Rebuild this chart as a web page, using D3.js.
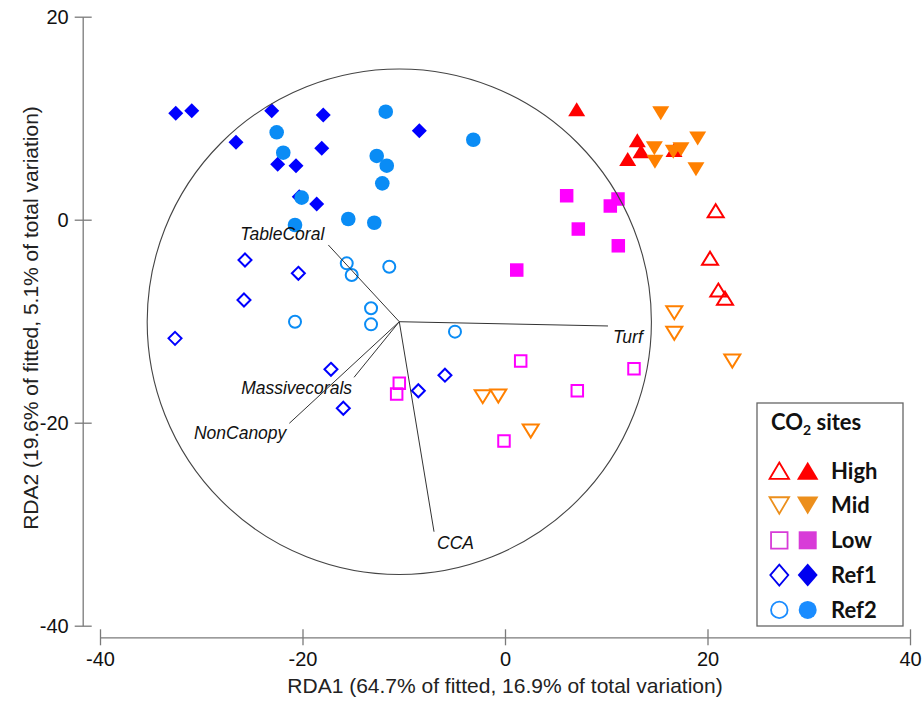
<!DOCTYPE html>
<html>
<head>
<meta charset="utf-8">
<script src="https://cdn.jsdelivr.net/npm/d3@7"></script>
<style>
  body { margin: 0; background: #fff; }
  svg text { font-family: "Liberation Sans", Arial, sans-serif; }
</style>
</head>
<body>
<div id="rda_plot"></div>
<script>
// size of svg
const width = 923; const height = 701;

// site scores [RDA1, RDA2]
const highOpen   = [[20.81, 0.89], [20.25, -3.80], [21.07, -6.93], [21.73, -7.74]];
const highFilled = [[7.08, 10.88], [13.07, 7.82], [13.43, 6.74], [12.12, 5.99], [16.69, 6.86]];
const midOpen    = [[16.72, -9.16], [16.72, -11.19], [22.45, -13.93], [-2.20, -17.44], [-0.66, -17.37], [2.54, -20.82]];
const midFilled  = [[15.38, 10.48], [19.03, 8.01], [14.75, 7.03], [14.81, 5.71], [16.62, 6.70], [17.38, 6.94], [18.86, 4.96]];
const lowOpen    = [[1.55, -13.92], [12.74, -14.68], [7.14, -16.85], [-0.10, -21.80], [-10.44, -16.12], [-10.70, -17.17]];
const lowFilled  = [[6.09, 2.36], [11.16, 2.04], [10.40, 1.35], [7.24, -0.92], [11.19, -2.57], [1.16, -4.96]];
const ref1Open   = [[-25.68, -3.97], [-20.41, -5.28], [-25.78, -7.91], [-32.59, -11.69], [-17.19, -14.74], [-15.97, -18.58], [-8.56, -16.85], [-5.93, -15.32]];
const ref1Filled = [[-32.52, 10.48], [-30.94, 10.73], [-23.04, 10.73], [-17.95, 10.31], [-26.57, 7.62], [-18.10, 7.03], [-8.46, 8.77], [-22.45, 5.46], [-20.64, 5.32], [-20.32, 2.27], [-18.60, 1.55]];
const ref2Open   = [[-15.63, -4.30], [-15.14, -5.45], [-11.43, -4.63], [-13.23, -8.73], [-13.23, -10.31], [-20.74, -10.05], [-4.94, -11.03]];
const ref2Filled = [[-11.78, 10.64], [-3.13, 7.88], [-22.55, 8.61], [-21.90, 6.60], [-12.67, 6.28], [-11.68, 5.32], [-12.12, 3.58], [-20.08, 2.17], [-15.48, 0.07], [-12.91, -0.30], [-20.74, -0.52]];

// species vectors
const vectorNames = ['TableCoral', 'Turf', 'Massivecorals', 'NonCanopy', 'CCA'];
const vectorEndX  = [-17.45, 10.17, -14.91, -21.30, -7.01];
const vectorEndY  = [-2.49, -10.47, -15.53, -20.06, -30.74];
const vectorOrigin = [-10.44, -10.05];
const circleRadius = 24.9;

const groupNames = ['High', 'Mid', 'Low', 'Ref1', 'Ref2'];
const xTicks = [-40, -20, 0, 20, 40];
const yTicks = [20, 0, -20, -40];

// styles
const groupShapes = ['up', 'down', 'square', 'diamond', 'circle'];
const plotColors = ['#ff0000', '#ff8000', '#ff00ff', '#0000ff', '#0a8cf5'];
const legendColors = ['#ff0000', '#ec8f1c', '#d83bd8', '#0000f0', '#1a8cff'];

const openSets = [highOpen, midOpen, lowOpen, ref1Open, ref2Open];
const filledSets = [highFilled, midFilled, lowFilled, ref1Filled, ref2Filled];

let svg = d3.select('#rda_plot')
    .append('svg')
        .attr('width', width)
        .attr('height', height);

const xScale = d3.scaleLinear().domain([-40, 40]).range([100, 910]);
const yScale = d3.scaleLinear().domain([-40, 20]).range([625.7, 16.7]);

// marker path centred on 0,0
function shapePath(shape, w, h) {
    const a = w / 2, b = h / 2;
    if (shape === 'up') return `M0,${-b}L${a},${b}L${-a},${b}Z`;
    if (shape === 'down') return `M${-a},${-b}L${a},${-b}L0,${b}Z`;
    if (shape === 'square') return `M${-a},${-b}H${a}V${b}H${-a}Z`;
    if (shape === 'diamond') return `M0,${-b}L${a},0L0,${b}L${-a},0Z`;
    return `M${a},0A${a},${b} 0 1,1 ${-a},0A${a},${b} 0 1,1 ${a},0Z`;
}
const plotSize = {
    filled: {up: [17, 14], down: [17, 14], square: [13.5, 13.5], diamond: [15, 15], circle: [14.6, 14.6]},
    open:   {up: [16, 13], down: [16, 13], square: [11.5, 11.5], diamond: [13, 13], circle: [12, 12]}
};
const legendSize = {
    filled: {up: [21.5, 18], down: [21.5, 18], square: [18, 18], diamond: [20, 23], circle: [18, 18]},
    open:   {up: [19.5, 16.5], down: [19.5, 16.5], square: [16.5, 16.5], diamond: [18, 21], circle: [16.5, 16.5]}
};

// plain hyphen minus, as in the original
const tickFmt = d => String(d);

// y axis
const yAxisG = svg.append('g')
    .attr('transform', 'translate(82.7,0)')
    .call(d3.axisLeft(yScale).tickValues(yTicks).tickFormat(tickFmt)
        .tickSize(8).tickSizeOuter(0).tickPadding(6));
yAxisG.selectAll('.tick line').attr('x1', 9);

// x axis
const xAxisG = svg.append('g')
    .attr('transform', 'translate(0,637.3)')
    .call(d3.axisBottom(xScale).tickValues(xTicks).tickFormat(tickFmt)
        .tickSize(8).tickSizeOuter(0).tickPadding(7));
xAxisG.selectAll('.tick line').attr('y1', -8);

[xAxisG, yAxisG].forEach(g => {
    g.selectAll('.domain, .tick line').attr('stroke', '#7a7a7a').attr('stroke-width', 1.3);
    g.selectAll('.tick text')
        .attr('fill', '#111')
        .style('font-size', '20px')
        .style('font-family', '"Liberation Sans", Arial, sans-serif');
});

// axis labels
svg.append('text')
    .attr('x', 505).attr('y', 693)
    .attr('text-anchor', 'middle')
    .attr('fill', '#222')
    .style('font-size', '21px')
    .text('RDA1 (64.7% of fitted, 16.9% of total variation)');
svg.append('text')
    .attr('transform', 'translate(31,318) rotate(-90)')
    .attr('dy', '0.35em')
    .attr('text-anchor', 'middle')
    .attr('fill', '#222')
    .style('font-size', '21px')
    .text('RDA2 (19.6% of fitted, 5.1% of total variation)');

// points: open first, then filled
const plotG = svg.append('g');
function drawSet(points, gi, filled) {
    const shape = groupShapes[gi];
    const sz = (filled ? plotSize.filled : plotSize.open)[shape];
    plotG.selectAll(null)
        .data(points)
        .enter()
        .append('path')
            .attr('transform', d => `translate(${xScale(d[0])},${yScale(d[1])})`)
            .attr('d', shapePath(shape, sz[0], sz[1]))
            .attr('fill', filled ? plotColors[gi] : 'none')
            .attr('stroke', filled ? 'none' : plotColors[gi])
            .attr('stroke-width', 2);
}
openSets.forEach((pts, i) => drawSet(pts, i, false));
filledSets.forEach((pts, i) => drawSet(pts, i, true));

// equilibrium circle
const ox = xScale(vectorOrigin[0]), oy = yScale(vectorOrigin[1]);
svg.append('ellipse')
    .attr('cx', ox).attr('cy', oy)
    .attr('rx', xScale(circleRadius) - xScale(0))
    .attr('ry', yScale(0) - yScale(circleRadius))
    .attr('fill', 'none')
    .attr('stroke', '#444')
    .attr('stroke-width', 1.1);

// vectors
const labelOffset = [[-4, -5, 'end'], [5, 17, 'start'], [-2, 17, 'end'], [-3, 16, 'end'], [3, 17, 'start']];
vectorNames.forEach((name, i) => {
    const ex = xScale(vectorEndX[i]), ey = yScale(vectorEndY[i]);
    svg.append('line')
        .attr('x1', ox).attr('y1', oy)
        .attr('x2', ex).attr('y2', ey)
        .attr('stroke', '#333')
        .attr('stroke-width', 1);
    svg.append('text')
        .attr('x', ex + labelOffset[i][0])
        .attr('y', ey + labelOffset[i][1])
        .attr('text-anchor', labelOffset[i][2])
        .attr('fill', '#111')
        .style('font-size', '17.5px')
        .style('font-style', 'italic')
        .text(name);
});

// legend
const legendG = svg.append('g').attr('transform', 'translate(757,403)');
legendG.append('rect')
    .attr('width', 146).attr('height', 223)
    .attr('fill', '#fff')
    .attr('stroke', '#666')
    .attr('stroke-width', 1.3);
const legendTitle = legendG.append('text')
    .attr('x', 14).attr('y', 27)
    .attr('fill', '#111')
    .style('font-family', 'Lato, "Open Sans", sans-serif')
    .style('font-weight', 700)
    .style('font-size', '22px');
legendTitle.append('tspan').text('CO');
legendTitle.append('tspan').attr('dy', 5).style('font-size', '14px').text('2');
legendTitle.append('tspan').attr('dy', -5).text(' sites');

groupNames.forEach((name, i) => {
    const ry = 67.7 + i * 34.8;
    const shape = groupShapes[i];
    const so = legendSize.open[shape], sf = legendSize.filled[shape];
    legendG.append('path')
        .attr('transform', `translate(22.3,${ry})`)
        .attr('d', shapePath(shape, so[0], so[1]))
        .attr('fill', 'none')
        .attr('stroke', legendColors[i])
        .attr('stroke-width', 1.8);
    legendG.append('path')
        .attr('transform', `translate(50.7,${ry})`)
        .attr('d', shapePath(shape, sf[0], sf[1]))
        .attr('fill', legendColors[i]);
    legendG.append('text')
        .attr('x', 74).attr('y', ry)
        .attr('dy', '0.36em')
        .attr('fill', '#111')
        .style('font-family', 'Lato, "Open Sans", sans-serif')
        .style('font-weight', 700)
        .style('font-size', '22px')
        .text(name);
});
</script>
</body>
</html>
